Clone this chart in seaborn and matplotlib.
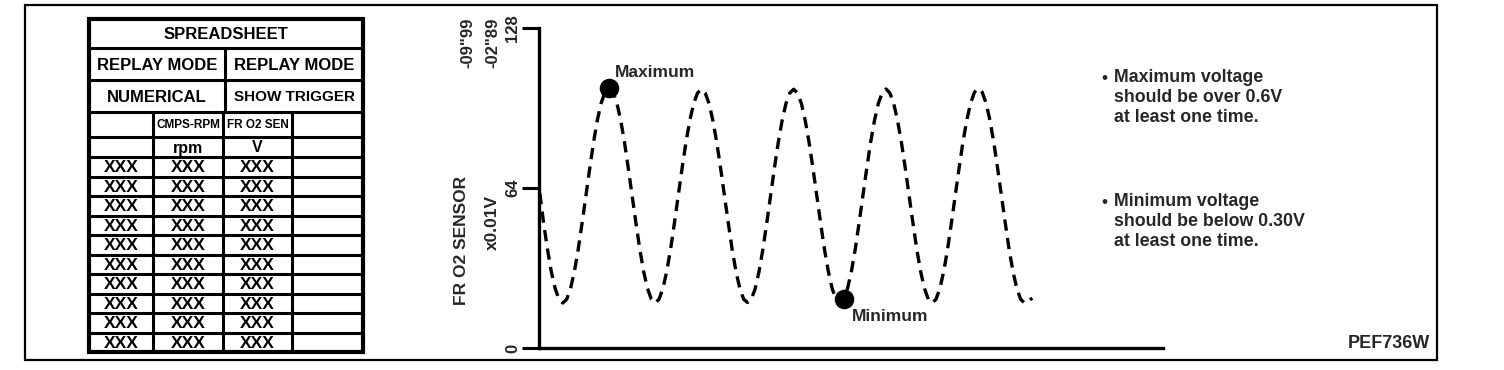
import matplotlib
matplotlib.use("Agg")
import matplotlib.pyplot as plt
from matplotlib.patches import Rectangle
import pandas as pd
import seaborn as sns

# ---------------- data ----------------
sample = list(range(129))
voltage = [
    62, 50, 39.5, 30.5, 23.8, 19.5, 18, 19.5, 23.8, 30.6, 39.5, 50,
    61, 72, 82.5, 91.4, 98.2, 102.5, 104, 102.5, 98.2, 91.4, 82.5, 72,
    61, 50, 39.5, 30.6, 23.8, 19.5, 18, 19.5, 23.8, 30.6, 39.5, 50,
    61, 72, 82.3, 91, 97.8, 102, 103.5, 102, 97.8, 91, 82.3, 72,
    61, 50, 39.5, 30.6, 23.8, 19.5, 18.2, 19.5, 23.8, 30.6, 39.5, 50,
    61, 72, 82.3, 91, 97.8, 102, 103.5, 102, 97.8, 91, 82.3, 72,
    61, 50, 39.5, 30.6, 23.8, 19.5, 18, 19.5, 23.8, 30.6, 39.5, 50,
    61, 72, 82.3, 91, 97.8, 102, 103.6, 102, 97.8, 91, 82.3, 72,
    61, 50, 39.5, 30.6, 23.8, 19.5, 18, 19.5, 23.8, 30.6, 39.5, 50,
    61, 72, 82.4, 91.2, 98, 102.3, 103.8, 102.3, 98, 91.2, 82.4, 72,
    61, 50, 39.5, 30.6, 23.8, 19.5, 18, 18.6, 20,
]
max_idx = 18
min_idx = 79
y_ticks = [0, 64, 128]
y_tick_labels = ["0", "64", "128"]
y_label = "FR O2 SENSOR"
y_unit = "x0.01V"
y_extra = ["-09\"99", "-02\"89"]
point_labels = ["Maximum", "Minimum"]

table_title = "SPREADSHEET"
table_modes = ["REPLAY MODE", "REPLAY MODE"]
table_mode_types = ["NUMERICAL", "SHOW TRIGGER"]
table_columns = ["", "CMPS-RPM", "FR O2 SEN", ""]
table_units = ["", "rpm", "V", ""]
table_cells = ["XXX", "XXX", "XXX", ""]
n_table_rows = 10

notes = [
    ["Maximum voltage", "should be over 0.6V", "at least one time."],
    ["Minimum voltage", "should be below 0.30V", "at least one time."],
]
figure_code = "PEF736W"

# ---------------- style ----------------
sns.set_style("white")
plt.rcParams["font.family"] = ["Liberation Sans", "DejaVu Sans"]

W, H = 1504, 370
fig = plt.figure(figsize=(W / 100, H / 100), dpi=100)

# canvas in pixel coordinates for the diagram furniture
cv = fig.add_axes([0, 0, 1, 1])
cv.set_xlim(0, W)
cv.set_ylim(H, 0)
cv.axis("off")
cv.set_zorder(0)

# outer frame
cv.add_patch(Rectangle((25, 5), 1412, 355, fill=False, lw=1.6, ec="black"))

# ---------------- table ----------------
tx0, tx1 = 89, 363
row_y = [19, 48, 80, 112, 137, 157] + [157 + 19.5 * k for k in range(1, n_table_rows + 1)]
col_x = [89, 153, 223, 292, 363]
inner_lw = 2.2
for y in row_y[1:-1]:
    cv.plot([tx0, tx1], [y, y], color="black", lw=inner_lw, solid_capstyle="butt")
cv.add_patch(Rectangle((tx0, row_y[0]), tx1 - tx0, row_y[-1] - row_y[0],
                       fill=False, lw=3.0, ec="black"))
cv.plot([225, 225], [row_y[1], row_y[3]], color="black", lw=inner_lw)
for x in col_x[1:-1]:
    cv.plot([x, x], [row_y[3], row_y[-1]], color="black", lw=inner_lw)

bold = dict(fontweight="bold", color="black", ha="center", va="center")
cv.text((tx0 + tx1) / 2, (row_y[0] + row_y[1]) / 2 + 1, table_title, fontsize=12, **bold)
half_x = [(tx0 + 225) / 2, (225 + tx1) / 2]
for i in range(2):
    cv.text(half_x[i], (row_y[1] + row_y[2]) / 2 + 1, table_modes[i], fontsize=12, **bold)
    cv.text(half_x[i], (row_y[2] + row_y[3]) / 2 + 1, table_mode_types[i],
            fontsize=12 if i == 0 else 11, **bold)
centers = [(col_x[j] + col_x[j + 1]) / 2 for j in range(4)]
for j in range(4):
    cv.text(centers[j], (row_y[3] + row_y[4]) / 2 + 1, table_columns[j], fontsize=8.5,
            family=["Liberation Sans Narrow", "Liberation Sans"], **bold)
    cv.text(centers[j], (row_y[4] + row_y[5]) / 2 + 1, table_units[j], fontsize=11.5, **bold)
for r in range(n_table_rows):
    yc = (row_y[5 + r] + row_y[6 + r]) / 2 + 1
    for j in range(4):
        cv.text(centers[j], yc, table_cells[j], fontsize=12.5, **bold)

# ---------------- chart ----------------
ax = fig.add_axes([539 / W, 22 / H, 624 / W, 320 / H])
ax.set_zorder(1)
ax.patch.set_alpha(0)

df = pd.DataFrame({"sample": sample, "voltage": voltage})
sns.lineplot(data=df, x="sample", y="voltage", ax=ax, color="black", lw=2.4)
ax.lines[0].set_linestyle((0, (3.4, 2.2)))

pts = pd.DataFrame({"sample": [sample[max_idx], sample[min_idx]],
                    "voltage": [voltage[max_idx], voltage[min_idx]]})
sns.scatterplot(data=pts, x="sample", y="voltage", ax=ax, s=170, color="black",
                edgecolor="black", zorder=5, legend=False)
ax.annotate(point_labels[0], (sample[max_idx], voltage[max_idx]), xytext=(4.5, 11.5),
            textcoords="offset points", ha="left", va="center", fontsize=12.5,
            fontweight="bold")
ax.annotate(point_labels[1], (sample[min_idx], voltage[min_idx]), xytext=(6, -12.5),
            textcoords="offset points", ha="left", va="center", fontsize=12.5,
            fontweight="bold")

ax.set_xlim(-0.2, 162)
ax.set_ylim(0, 128)
ax.set_xticks([])
ax.set_yticks(y_ticks)
ax.set_yticklabels(y_tick_labels, rotation=90, va="center", fontsize=12,
                   fontweight="bold")
ax.tick_params(axis="y", left=True, direction="out", length=12, width=2.2, pad=1.5,
               color="black")
ax.set_xlabel("")
ax.set_ylabel("")
for side in ["top", "right"]:
    ax.spines[side].set_visible(False)
for side in ["left", "bottom"]:
    ax.spines[side].set_linewidth(2.4)
    ax.spines[side].set_color("black")

# axis annotations
cv.text(462, 240, y_label, rotation=90, ha="center", va="center", fontsize=12.5,
        fontweight="bold")
cv.text(492, 222, y_unit, rotation=90, ha="center", va="center", fontsize=12.5,
        fontweight="bold")
cv.text(468, 43, y_extra[0], rotation=90, ha="center", va="center", fontsize=12,
        fontweight="bold")
cv.text(493, 43, y_extra[1], rotation=90, ha="center", va="center", fontsize=12,
        fontweight="bold")

# notes on the right
note_top = [78, 202]
for k, lines in enumerate(notes):
    cv.text(1101, note_top[k], "\u2022", ha="left", va="center", fontsize=12.5)
    for i, line in enumerate(lines):
        cv.text(1114, note_top[k] + 19.5 * i, line, ha="left", va="center", fontsize=12.8,
                fontweight="bold")

cv.text(1430, 343, figure_code, ha="right", va="center", fontsize=13, fontweight="bold")

fig.savefig("out.png", dpi=100)
